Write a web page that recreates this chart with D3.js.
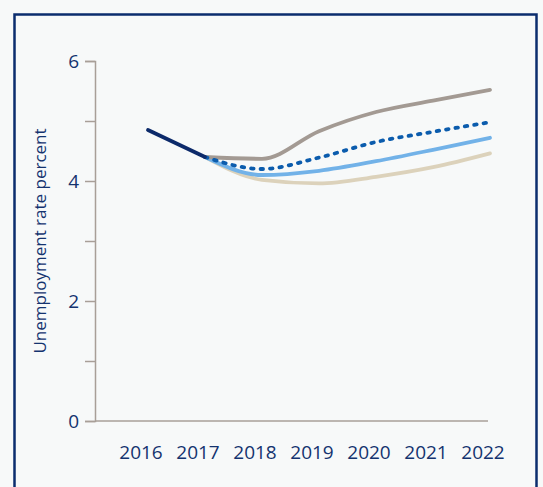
<!DOCTYPE html>
<html>
<head>
<meta charset="utf-8">
<script src="https://cdn.jsdelivr.net/npm/d3@7"></script>
<style>
  html, body { margin: 0; padding: 0; background: #f7f9f9; }
  svg { display: block; font-family: "Open Sans", sans-serif; }
</style>
</head>
<body>
<div id="chart"></div>
<script>
// Chart data

var years = [2016, 2017, 2018, 2019, 2020, 2021, 2022];
var yTicks = [0, 1, 2, 3, 4, 5, 6];
var yLabels = [0, 2, 4, 6];

var actual = [4.85, 4.40, null, null, null, null, null];
var high = [null, 4.40, 4.37, 4.83, 5.15, 5.34, 5.52];
var central = [null, 4.40, 4.20, 4.39, 4.65, 4.82, 4.98];
var lowMid = [null, 4.40, 4.10, 4.17, 4.33, 4.52, 4.72];
var low = [null, 4.40, 4.02, 3.96, 4.07, 4.23, 4.46];

var width = 543,
    height = 487;

var svg = d3.select("#chart").append("svg")
    .attr("width", width)
    .attr("height", height);

// frame
svg.append("rect")
    .attr("x", 14.5)
    .attr("y", 14.5)
    .attr("width", 522)
    .attr("height", 500)
    .attr("fill", "#f7f9f9")
    .attr("stroke", "#0b2d6e")
    .attr("stroke-width", 2.5);

var x = d3.scaleLinear()
    .domain([2016, 2022])
    .range([148, 490]);

var y = d3.scaleLinear()
    .domain([0, 6])
    .range([421, 61]);

// y axis
var yAxis = svg.append("g")
    .attr("transform", "translate(95,0)")
    .call(d3.axisLeft(y)
        .tickValues(yTicks)
        .tickSize(10)
        .tickPadding(6)
        .tickFormat(function(d) { return yLabels.indexOf(d) >= 0 ? d : ""; }));

yAxis.select(".domain").attr("stroke", "#a89f98").attr("stroke-width", 1.5);
yAxis.selectAll(".tick line").attr("stroke", "#a89f98").attr("stroke-width", 1.5);
yAxis.selectAll(".tick text")
    .attr("fill", "#14336f")
    .attr("font-size", 19)
    .attr("font-family", "Open Sans, sans-serif")
    .attr("dy", "0.35em");

// x axis
svg.append("line")
    .attr("x1", 95)
    .attr("x2", 488)
    .attr("y1", y(0))
    .attr("y2", y(0))
    .attr("stroke", "#a89f98")
    .attr("stroke-width", 1.5);

svg.append("g").selectAll("text")
    .data(years)
  .enter().append("text")
    .attr("x", function(d) { return x(d) - 7; })
    .attr("y", 459)
    .attr("text-anchor", "middle")
    .attr("fill", "#14336f")
    .attr("font-size", 19)
    .text(function(d) { return d; });

svg.append("text")
    .attr("transform", "translate(46,241) rotate(-90)")
    .attr("text-anchor", "middle")
    .attr("fill", "#14336f")
    .attr("font-size", 17)
    .text("Unemployment rate percent");

// lines
var line = d3.line()
    .defined(function(d) { return d != null; })
    .x(function(d, i) { return x(years[i]); })
    .y(function(d) { return y(d); })
    .curve(d3.curveMonotoneX);

var series = [
    {values: low, color: "#dcd2bb", dash: null},
    {values: lowMid, color: "#72b2e8", dash: null},
    {values: high, color: "#a39a93", dash: null},
    {values: central, color: "#0b5cad", dash: "2.5,7"},
    {values: actual, color: "#0c2a6a", dash: null}
];

svg.selectAll(".series")
    .data(series)
  .enter().append("path")
    .attr("class", "series")
    .attr("d", function(d) { return line(d.values); })
    .attr("fill", "none")
    .attr("stroke", function(d) { return d.color; })
    .attr("stroke-width", 3.8)
    .attr("stroke-linecap", "round")
    .attr("stroke-dasharray", function(d) { return d.dash; });
</script>
</body>
</html>
